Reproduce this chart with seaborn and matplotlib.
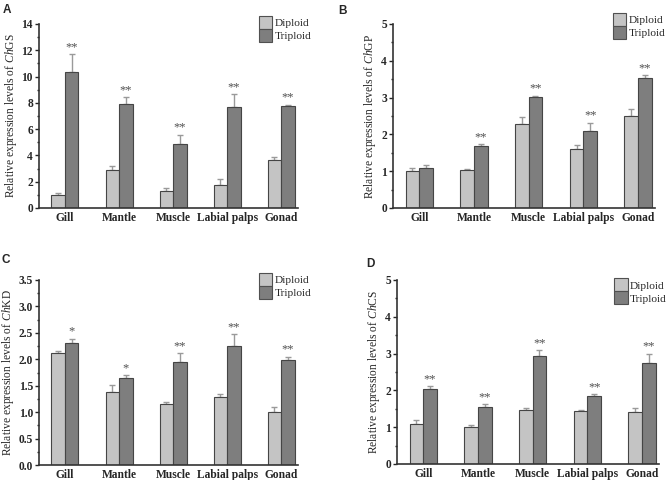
import numpy as np
import pandas as pd
import matplotlib
matplotlib.use('Agg')
import matplotlib.pyplot as plt
import seaborn as sns
from matplotlib.ticker import MultipleLocator
from matplotlib.patches import Patch

sns.set_style('ticks')
plt.rcParams['font.family'] = ['Liberation Serif', 'DejaVu Serif']
plt.rcParams['mathtext.fontset'] = 'custom'
plt.rcParams['mathtext.rm'] = 'Liberation Serif'
plt.rcParams['mathtext.it'] = 'Liberation Serif:italic'

tissues = ['Gill', 'Mantle', 'Muscle', 'Labial palps', 'Gonad']
groups = ['Diploid', 'Triploid']

# ChGS
gs_dip = [1.02, 2.92, 1.32, 1.78, 3.68]
gs_dip_err = [0.10, 0.26, 0.20, 0.40, 0.23]
gs_tri = [10.34, 7.93, 4.90, 7.72, 7.77]
gs_tri_err = [1.35, 0.50, 0.69, 0.94, 0.10]
gs_sig = ['**', '**', '**', '**', '**']

# ChGP
gp_dip = [1.00, 1.03, 2.27, 1.59, 2.51]
gp_dip_err = [0.10, 0.04, 0.19, 0.13, 0.19]
gp_tri = [1.10, 1.68, 3.02, 2.08, 3.52]
gp_tri_err = [0.08, 0.05, 0.03, 0.24, 0.09]
gp_sig = ['', '**', '**', '**', '**']

# ChKD
kd_dip = [2.11, 1.38, 1.16, 1.28, 1.01]
kd_dip_err = [0.04, 0.13, 0.04, 0.06, 0.09]
kd_tri = [2.30, 1.64, 1.95, 2.26, 1.98]
kd_tri_err = [0.09, 0.06, 0.17, 0.22, 0.07]
kd_sig = ['*', '*', '**', '**', '**']

# ChCS
cs_dip = [1.08, 1.00, 1.46, 1.44, 1.42]
cs_dip_err = [0.11, 0.05, 0.05, 0.02, 0.11]
cs_tri = [2.03, 1.56, 2.94, 1.85, 2.74]
cs_tri_err = [0.09, 0.07, 0.15, 0.05, 0.26]
cs_sig = ['**', '**', '**', '**', '**']

colors = ['#c4c4c4', '#7e7e7e']


def panel(ax, gene, dip, dip_err, tri, tri_err, sig, ymax, major, minor, leg_x, leg_y):
    df = pd.DataFrame({
        'tissue': tissues * 2,
        'group': [groups[0]] * 5 + [groups[1]] * 5,
        'value': dip + tri,
    })
    sns.barplot(data=df, x='tissue', y='value', hue='group', palette=colors,
                width=0.5, errorbar=None, edgecolor='#454545', linewidth=0.8,
                ax=ax, legend=False)
    for cont, errs in zip(ax.containers, [dip_err, tri_err]):
        xs = [b.get_x() + b.get_width() / 2 for b in cont]
        hs = [b.get_height() for b in cont]
        ax.errorbar(xs, hs, yerr=[np.zeros(len(errs)), errs], fmt='none',
                    ecolor='#9a9a9a', elinewidth=1.0, capsize=2.5, capthick=1.0,
                    zorder=0)
    tri_bars = ax.containers[1]
    for b, e, s in zip(tri_bars, tri_err, sig):
        if s:
            ax.annotate(s, (b.get_x() + b.get_width() / 2, b.get_height() + e),
                        xytext=(0, 5), textcoords='offset points',
                        ha='center', va='center', fontsize=9, color='#505050')
    ax.set_xlim(-0.48, 4.31)
    ax.set_ylim(0, ymax)
    ax.yaxis.set_major_locator(MultipleLocator(major))
    ax.yaxis.set_minor_locator(MultipleLocator(minor))
    ax.tick_params(axis='y', which='major', length=2.8, width=1, labelsize=8.3, pad=1.5)
    ax.tick_params(axis='y', which='minor', length=1.8, width=1)
    ax.tick_params(axis='x', length=0, labelsize=8.3, pad=3)
    for lab in ax.get_xticklabels() + ax.get_yticklabels():
        lab.set_fontweight('bold')
    ax.set_xlabel('')
    ax.set_ylabel(r'Relative expression levels of $\mathit{Ch}$' + gene,
                  fontsize=8.3, labelpad=2)
    sns.despine(ax=ax)
    for sp in ['left', 'bottom']:
        ax.spines[sp].set_linewidth(1.2)
        ax.spines[sp].set_color('#333333')
    handles = [Patch(facecolor=c, edgecolor='#505050', linewidth=0.8) for c in colors]
    ax.legend(handles, groups, loc='upper left', bbox_to_anchor=(leg_x, leg_y),
              frameon=False, fontsize=8.2, handlelength=1.15, handleheight=1.4,
              handletextpad=0.2, labelspacing=0.0, borderpad=0, borderaxespad=0)


fig = plt.figure(figsize=(6.69, 4.8), dpi=100)
W, H = 669, 480
axA = fig.add_axes([39 / W, 1 - 208 / H, 259 / W, 184 / H])
axB = fig.add_axes([393 / W, 1 - 208 / H, 262 / W, 184 / H])
axC = fig.add_axes([39 / W, 1 - 465 / H, 259 / W, 185 / H])
axD = fig.add_axes([397 / W, 1 - 464 / H, 262 / W, 184 / H])

panel(axA, 'GS', gs_dip, gs_dip_err, gs_tri, gs_tri_err, gs_sig, 14, 2, 1, 0.85, 1.045)
panel(axB, 'GP', gp_dip, gp_dip_err, gp_tri, gp_tri_err, gp_sig, 5, 1, 0.5, 0.84, 1.06)
panel(axC, 'KD', kd_dip, kd_dip_err, kd_tri, kd_tri_err, kd_sig, 3.5, 0.5, 0.25, 0.85, 1.04)
panel(axD, 'CS', cs_dip, cs_dip_err, cs_tri, cs_tri_err, cs_sig, 5, 1, 0.5, 0.83, 1.01)

for lbl, x, y in [('A', 3, 4), ('B', 338, 5), ('C', 2, 254), ('D', 366, 258)]:
    fig.text(x / W, 1 - y / H, lbl, fontsize=8.5, fontweight='bold',
             family='Liberation Sans', va='top', ha='left')

fig.savefig('out.png', dpi=100)
